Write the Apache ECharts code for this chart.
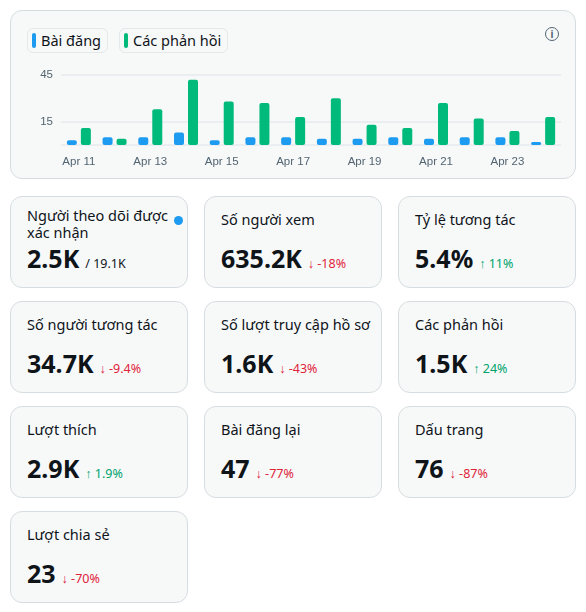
<!DOCTYPE html>
<html><head><meta charset="utf-8">
<script src="https://cdn.jsdelivr.net/npm/echarts@6/dist/echarts.min.js"></script>
<style>
body{margin:0;background:#fff;font-family:"Noto Sans",sans-serif;color:#0f1419;}
.box{position:absolute;background:#f7f9f9;border:1px solid #d6dde1;border-radius:12px;box-sizing:border-box;}
.pill{position:absolute;top:17px;height:25px;border:1px solid #e3e8ea;border-radius:6px;font-size:14.5px;line-height:23px;padding:0 6px 0 4px;box-sizing:border-box;color:#0f1419}
.pill i{display:inline-block;width:4px;height:15px;border-radius:2px;vertical-align:-2px;margin-right:5px}
.t{position:absolute;left:16px;top:10px;font-size:14.5px;line-height:17px;right:18px}
.v{position:absolute;left:16px;top:44px;font-size:25px;font-weight:700}
.d{font-size:12.5px;font-weight:400;margin-left:6px}
.up{color:#00a36c}.dn{color:#e0243a}
</style></head><body>
<div class="box" style="left:10px;top:10px;width:566px;height:169px">
  <div class="pill" style="left:16px"><i style="background:#1d9bf0"></i>Bài đăng</div>
  <div class="pill" style="left:108px"><i style="background:#00ba7c"></i>Các phản hồi</div>
  <div style="position:absolute;right:16px;top:16px;width:12px;height:12px;border:1.5px solid #536471;border-radius:50%;font-size:10px;line-height:12px;text-align:center;color:#536471;font-weight:700">i</div>
  <div id="chart" style="position:absolute;left:0;top:50px;width:564px;height:115px"></div>
</div>
<div id="cards"></div>
<script>
var days=['Apr 11','Apr 12','Apr 13','Apr 14','Apr 15','Apr 16','Apr 17','Apr 18','Apr 19','Apr 20','Apr 21','Apr 22','Apr 23','Apr 24'];
var posts=[3,5,5,8,3,5,5,4,4,5,4,5,5,2];
var replies=[11,4,23,42,28,27,18,30,13,11,27,17,9,18];
var cardTitles=['Người theo dõi được xác nhận','Số người xem','Tỷ lệ tương tác','Số người tương tác','Số lượt truy cập hồ sơ','Các phản hồi','Lượt thích','Bài đăng lại','Dấu trang','Lượt chia sẻ'];
var cardValues=['2.5K','635.2K','5.4%','34.7K','1.6K','1.5K','2.9K','47','76','23'];
var cardDeltas=['','-18%','11%','-9.4%','-43%','24%','1.9%','-77%','-87%','-70%'];

var html='';
for(var i=0;i<cardTitles.length;i++){
  var col=i%3,row=Math.floor(i/3);
  var d=cardDeltas[i],extra='';
  if(i==0) extra='<span class="d" style="color:#0f1419">/ 19.1K</span>';
  else if(d.charAt(0)=='-') extra='<span class="d dn">↓ '+d+'</span>';
  else extra='<span class="d up">↑ '+d+'</span>';
  var titleStyle=(i==0)?'':' style="top:14px;right:6px"';
  html+='<div class="box" style="left:'+(10+col*194)+'px;top:'+(196+row*105)+'px;width:178px;height:92px">'+
    '<div class="t"'+titleStyle+'>'+cardTitles[i]+'</div><div class="v">'+cardValues[i]+extra+'</div>'+
    (i==0?'<div style="position:absolute;right:4px;top:19px;width:9px;height:9px;border-radius:50%;background:#1d9bf0"></div>':'')+'</div>';
}
document.getElementById('cards').innerHTML=html;

var chart=echarts.init(document.getElementById('chart'));
chart.setOption({
  animation:false,
  grid:{left:50,right:14,top:14,bottom:31},
  xAxis:{type:'category',data:days,axisTick:{show:false},axisLine:{show:false},
    axisLabel:{interval:1,color:'#536471',fontSize:11.5,margin:11}},
  yAxis:{type:'value',min:0,max:45,interval:15,
    axisLabel:{color:'#536471',fontSize:11.5,formatter:function(v){return (v==15||v==45)?v:'';}},
    splitLine:{lineStyle:{color:['#e6eaec','#e6eaec','transparent','#e6eaec'],width:1.5}}},
  series:[
    {name:'Bài đăng',type:'bar',data:posts,barWidth:10,barGap:'40%',itemStyle:{color:'#1d9bf0',borderRadius:2}},
    {name:'Các phản hồi',type:'bar',data:replies,barWidth:10,itemStyle:{color:'#00ba7c',borderRadius:2}}
  ]
});
</script></body></html>
